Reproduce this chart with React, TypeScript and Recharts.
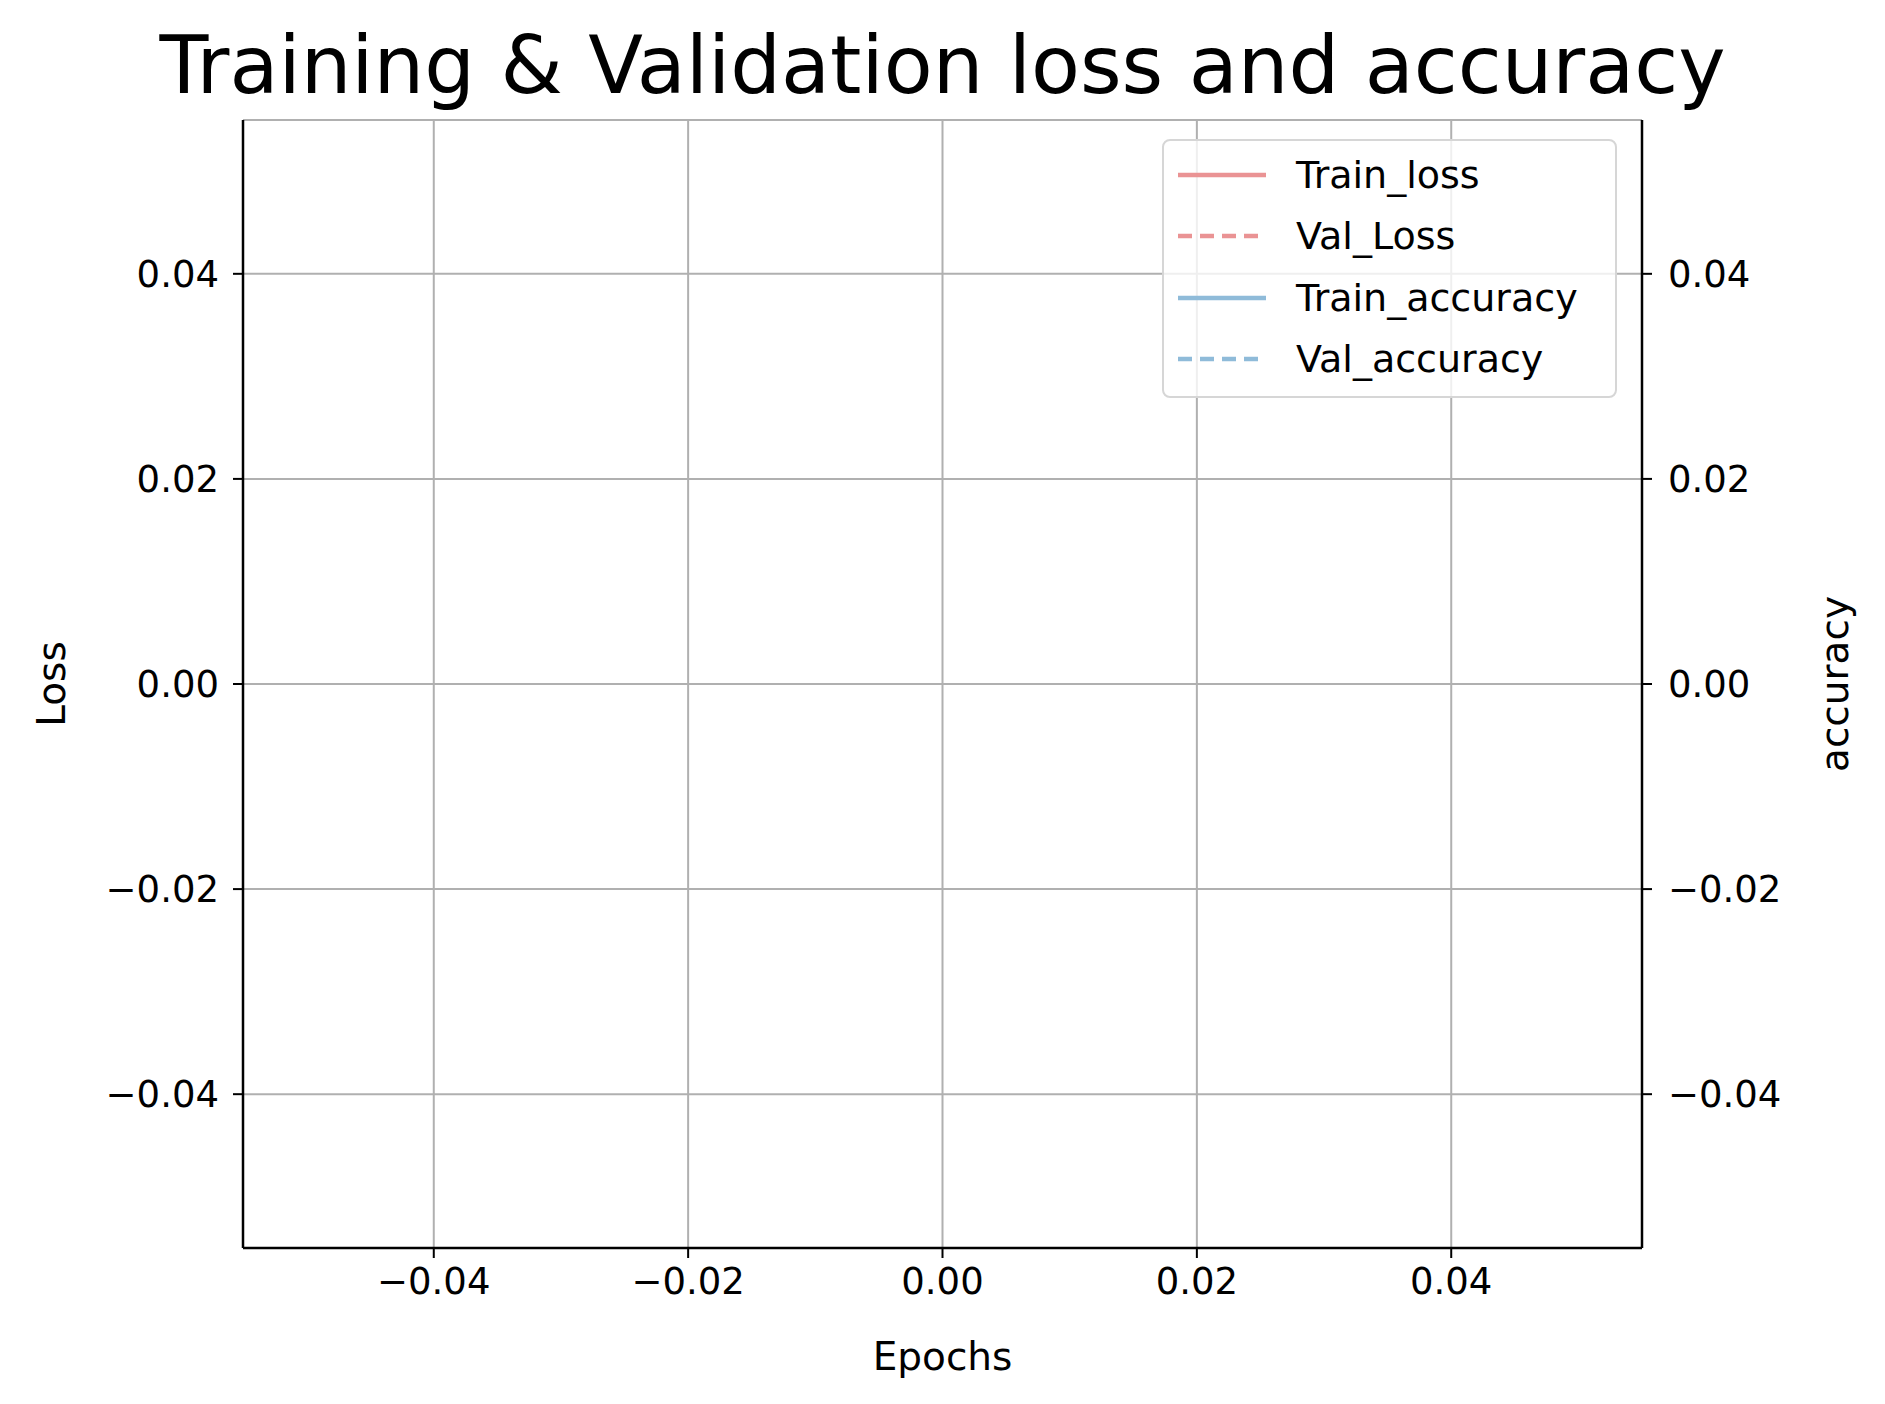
import React from "react";
import { LineChart, Line, XAxis, YAxis, CartesianGrid } from "recharts";

// the run had no epochs, so every series is empty
const epochs: number[] = [];
const trainLoss: (number | null)[] = [];
const valLoss: (number | null)[] = [];
const trainAcc: (number | null)[] = [];
const valAcc: (number | null)[] = [];

const xTicks = [-0.04, -0.02, 0, 0.02, 0.04];
const yTicks = [-0.04, -0.02, 0, 0.02, 0.04];

const RED = "#ea9394";
const BLUE = "#8fbbd9";
const FONT = "'DejaVu Sans', sans-serif";

const series = [
  { key: "Train_loss", color: RED, dash: undefined as string | undefined, axis: "loss" },
  { key: "Val_Loss", color: RED, dash: "14 8", axis: "loss" },
  { key: "Train_accuracy", color: BLUE, dash: undefined, axis: "acc" },
  { key: "Val_accuracy", color: BLUE, dash: "14 8", axis: "acc" },
];

// one placeholder row keeps the number axes alive when there is no data
const data =
  epochs.length > 0
    ? epochs.map((e, i) => ({
        epoch: e,
        Train_loss: trainLoss[i],
        Val_Loss: valLoss[i],
        Train_accuracy: trainAcc[i],
        Val_accuracy: valAcc[i],
      }))
    : [{ epoch: 0, Train_loss: null, Val_Loss: null, Train_accuracy: null, Val_accuracy: null }];

const fmt = (v: number) => {
  const s = Math.abs(v).toFixed(2);
  return v < -1e-9 ? "\u2212" + s : s;
};

const tickStyle = { fontSize: 37, fill: "#000", fontFamily: FONT };
const labelStyle = { fontSize: 39, fill: "#000", fontFamily: FONT, textAnchor: "middle" as const };
const tickLine = { stroke: "#000", strokeWidth: 2 };
const axisLine = { stroke: "#000", strokeWidth: 2.5 };

const LegendBox = () => (
  <div
    style={{
      position: "absolute",
      left: 1162,
      top: 139,
      width: 455,
      height: 259,
      border: "2.5px solid #d6d6d6",
      borderRadius: 8,
      background: "rgba(255,255,255,0.8)",
      boxSizing: "border-box",
      paddingTop: 3,
      fontFamily: FONT,
      fontSize: 38,
    }}
  >
    {series.map((s) => (
      <div key={s.key} style={{ display: "flex", alignItems: "center", height: 61.5 }}>
        <svg width={120} height={20} style={{ marginLeft: 12 }}>
          <line
            x1={2}
            x2={90}
            y1={10}
            y2={10}
            stroke={s.color}
            strokeWidth={4.5}
            strokeDasharray={s.dash}
          />
        </svg>
        <span>{s.key}</span>
      </div>
    ))}
  </div>
);

export default function App() {
  return (
    <div style={{ position: "absolute", left: 0, top: 0, width: 1885, height: 1404, background: "#fff" }}>
      <div
        style={{
          position: "absolute",
          top: 20,
          left: 0,
          width: 1885,
          textAlign: "center",
          fontFamily: FONT,
          fontSize: 80,
          lineHeight: "92px",
        }}
      >
        Training &amp; Validation loss and accuracy
      </div>
      <LineChart
        width={1885}
        height={1404}
        data={data}
        margin={{ top: 120, right: 123, bottom: 96, left: 123 }}
      >
        <CartesianGrid stroke="#b0b0b0" strokeWidth={2} xAxisId="x" yAxisId="loss" />
        <XAxis
          xAxisId="x"
          dataKey="epoch"
          type="number"
          domain={[-0.055, 0.055]}
          ticks={xTicks}
          tickFormatter={fmt}
          tick={tickStyle}
          tickLine={tickLine}
          axisLine={axisLine}
          tickSize={10}
          tickMargin={10}
          height={60}
          allowDataOverflow
          label={{ value: "Epochs", position: "insideBottom", offset: -62, style: labelStyle }}
        />
        <XAxis
          xAxisId="top"
          orientation="top"
          dataKey="epoch"
          type="number"
          domain={[-0.055, 0.055]}
          tick={false}
          tickLine={false}
          axisLine={axisLine}
          height={0}
          allowDataOverflow
        />
        <YAxis
          yAxisId="loss"
          type="number"
          domain={[-0.055, 0.055]}
          ticks={yTicks}
          tickFormatter={fmt}
          tick={tickStyle}
          tickLine={tickLine}
          axisLine={axisLine}
          tickSize={10}
          tickMargin={14}
          width={120}
          allowDataOverflow
          label={{ value: "Loss", angle: -90, position: "insideLeft", offset: -72, style: labelStyle }}
        />
        <YAxis
          yAxisId="acc"
          orientation="right"
          type="number"
          domain={[-0.055, 0.055]}
          ticks={yTicks}
          tickFormatter={fmt}
          tick={tickStyle}
          tickLine={tickLine}
          axisLine={axisLine}
          tickSize={10}
          tickMargin={16}
          width={120}
          allowDataOverflow
          label={{ value: "accuracy", angle: -90, position: "insideRight", offset: -72, style: labelStyle }}
        />
        {series.map((s) => (
          <Line
            key={s.key}
            xAxisId="x"
            yAxisId={s.axis}
            dataKey={s.key}
            stroke={s.color}
            strokeWidth={4}
            strokeDasharray={s.dash}
            dot={false}
            isAnimationActive={false}
          />
        ))}
      </LineChart>
      <LegendBox />
    </div>
  );
}
